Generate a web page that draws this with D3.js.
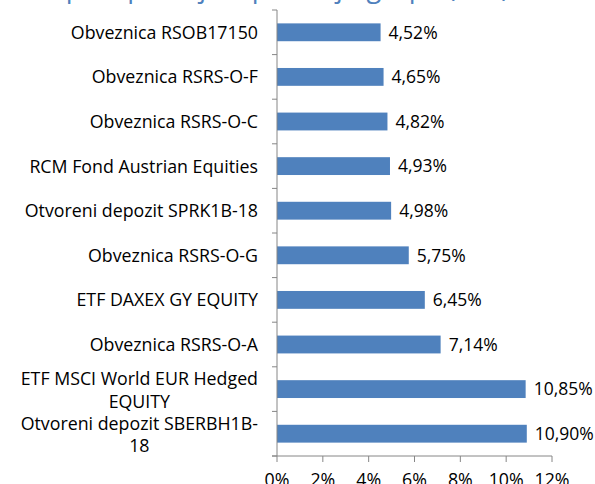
<!DOCTYPE html>
<html>
<head>
<meta charset="utf-8">
<script src="https://cdn.jsdelivr.net/npm/d3@7"></script>
<style>
  html, body { margin: 0; padding: 0; background: #fff; }
  svg { display: block; font-family: "Open Sans", sans-serif; }
</style>
</head>
<body>
<div id="chart"></div>
<script>
// kategorije odozgo prema dolje
const categories = [
    'Obveznica RSOB17150',
    'Obveznica RSRS-O-F',
    'Obveznica RSRS-O-C',
    'RCM Fond Austrian Equities',
    'Otvoreni depozit SPRK1B-18',
    'Obveznica RSRS-O-G',
    'ETF DAXEX GY EQUITY',
    'Obveznica RSRS-O-A',
    'ETF MSCI World EUR Hedged EQUITY',
    'Otvoreni depozit SBERBH1B-18'
];
// prijelom dugih naziva kao u originalu
const labelLines = [
    ['Obveznica RSOB17150'],
    ['Obveznica RSRS-O-F'],
    ['Obveznica RSRS-O-C'],
    ['RCM Fond Austrian Equities'],
    ['Otvoreni depozit SPRK1B-18'],
    ['Obveznica RSRS-O-G'],
    ['ETF DAXEX GY EQUITY'],
    ['Obveznica RSRS-O-A'],
    ['ETF MSCI World EUR Hedged', 'EQUITY'],
    ['Otvoreni depozit SBERBH1B-', '18']
];
const values = [4.52, 4.65, 4.82, 4.93, 4.98, 5.75, 6.45, 7.14, 10.85, 10.90];
const xTicks = [0, 2, 4, 6, 8, 10, 12];
const title = 'Top 10 pozicija u portfelju grupe (u %)';

const width = 595, height = 484;
const BAR_COLOR = '#4F81BD';
const AXIS_COLOR = '#868686';
const FONT = '17.8px';

const svg = d3.select('#chart').append('svg')
    .attr('width', width)
    .attr('height', height);

// naslov je odrezan na vrhu slike
svg.append('text')
    .attr('x', 272)
    .attr('y', -3)
    .attr('text-anchor', 'middle')
    .attr('fill', '#4F81BD')
    .attr('font-size', '27px')
    .text(title);

const x = d3.scaleLinear().domain([0, 12]).range([277, 552]);
const y = d3.scaleBand().domain(categories).range([10, 456])
    .paddingInner(0.6).paddingOuter(0.3);

const data = categories.map((c, i) => ({ cat: c, value: values[i], lines: labelLines[i] }));

// stupci
svg.append('g')
    .selectAll('rect')
    .data(data)
    .enter()
    .append('rect')
    .attr('x', x(0))
    .attr('y', d => y(d.cat))
    .attr('width', d => x(d.value) - x(0))
    .attr('height', y.bandwidth())
    .attr('fill', BAR_COLOR);

// vrijednosti
svg.append('g')
    .selectAll('text')
    .data(data)
    .enter()
    .append('text')
    .attr('x', d => x(d.value) + 8)
    .attr('y', d => y(d.cat) + y.bandwidth() / 2)
    .attr('dy', '0.36em')
    .attr('font-size', '17.5px')
    .attr('fill', '#000')
    .text(d => d.value.toFixed(2).replace('.', ',') + '%');

// y os
const yAxis = svg.append('g');
yAxis.append('line')
    .attr('x1', x(0)).attr('x2', x(0))
    .attr('y1', y.range()[0]).attr('y2', y.range()[1])
    .attr('stroke', AXIS_COLOR);
const step = y.step();
const boundaries = d3.range(categories.length + 1).map(i => y.range()[0] + i * step);
yAxis.selectAll('.tick')
    .data(boundaries)
    .enter()
    .append('line')
    .attr('x1', x(0) - 5).attr('x2', x(0))
    .attr('y1', d => d).attr('y2', d => d)
    .attr('stroke', AXIS_COLOR);

// nazivi kategorija: blok poravnat desno, linije centrirane unutar bloka
const labelBoxRight = 258;
const lbl = svg.append('g')
    .selectAll('text')
    .data(data)
    .enter()
    .append('text')
    .attr('font-size', FONT)
    .attr('fill', '#000')
    .attr('text-anchor', 'middle');

lbl.each(function(d) {
    const t = d3.select(this);
    const lineH = 22.5;
    const cy = y(d.cat) + y.bandwidth() / 2 + (d.lines.length - 1);
    const y0 = cy - (d.lines.length - 1) * lineH / 2;
    const spans = d.lines.map((ln, k) =>
        t.append('tspan').attr('x', 0).attr('y', y0 + k * lineH).attr('dy', '0.36em').text(ln));
    const w = d3.max(spans, s => s.node().getComputedTextLength());
    spans.forEach(s => s.attr('x', labelBoxRight - w / 2));
});

// x os
const xAxis = svg.append('g');
xAxis.append('line')
    .attr('x1', x(0) - 5).attr('x2', x(12))
    .attr('y1', y.range()[1]).attr('y2', y.range()[1])
    .attr('stroke', AXIS_COLOR);
xAxis.selectAll('.tick')
    .data(xTicks)
    .enter()
    .append('line')
    .attr('x1', d => x(d)).attr('x2', d => x(d))
    .attr('y1', y.range()[1]).attr('y2', y.range()[1] + 6)
    .attr('stroke', AXIS_COLOR);
xAxis.selectAll('text')
    .data(xTicks)
    .enter()
    .append('text')
    .attr('x', d => x(d))
    .attr('y', 486)
    .attr('text-anchor', 'middle')
    .attr('font-size', FONT)
    .attr('fill', '#000')
    .text(d => d + '%');
</script>
</body>
</html>
